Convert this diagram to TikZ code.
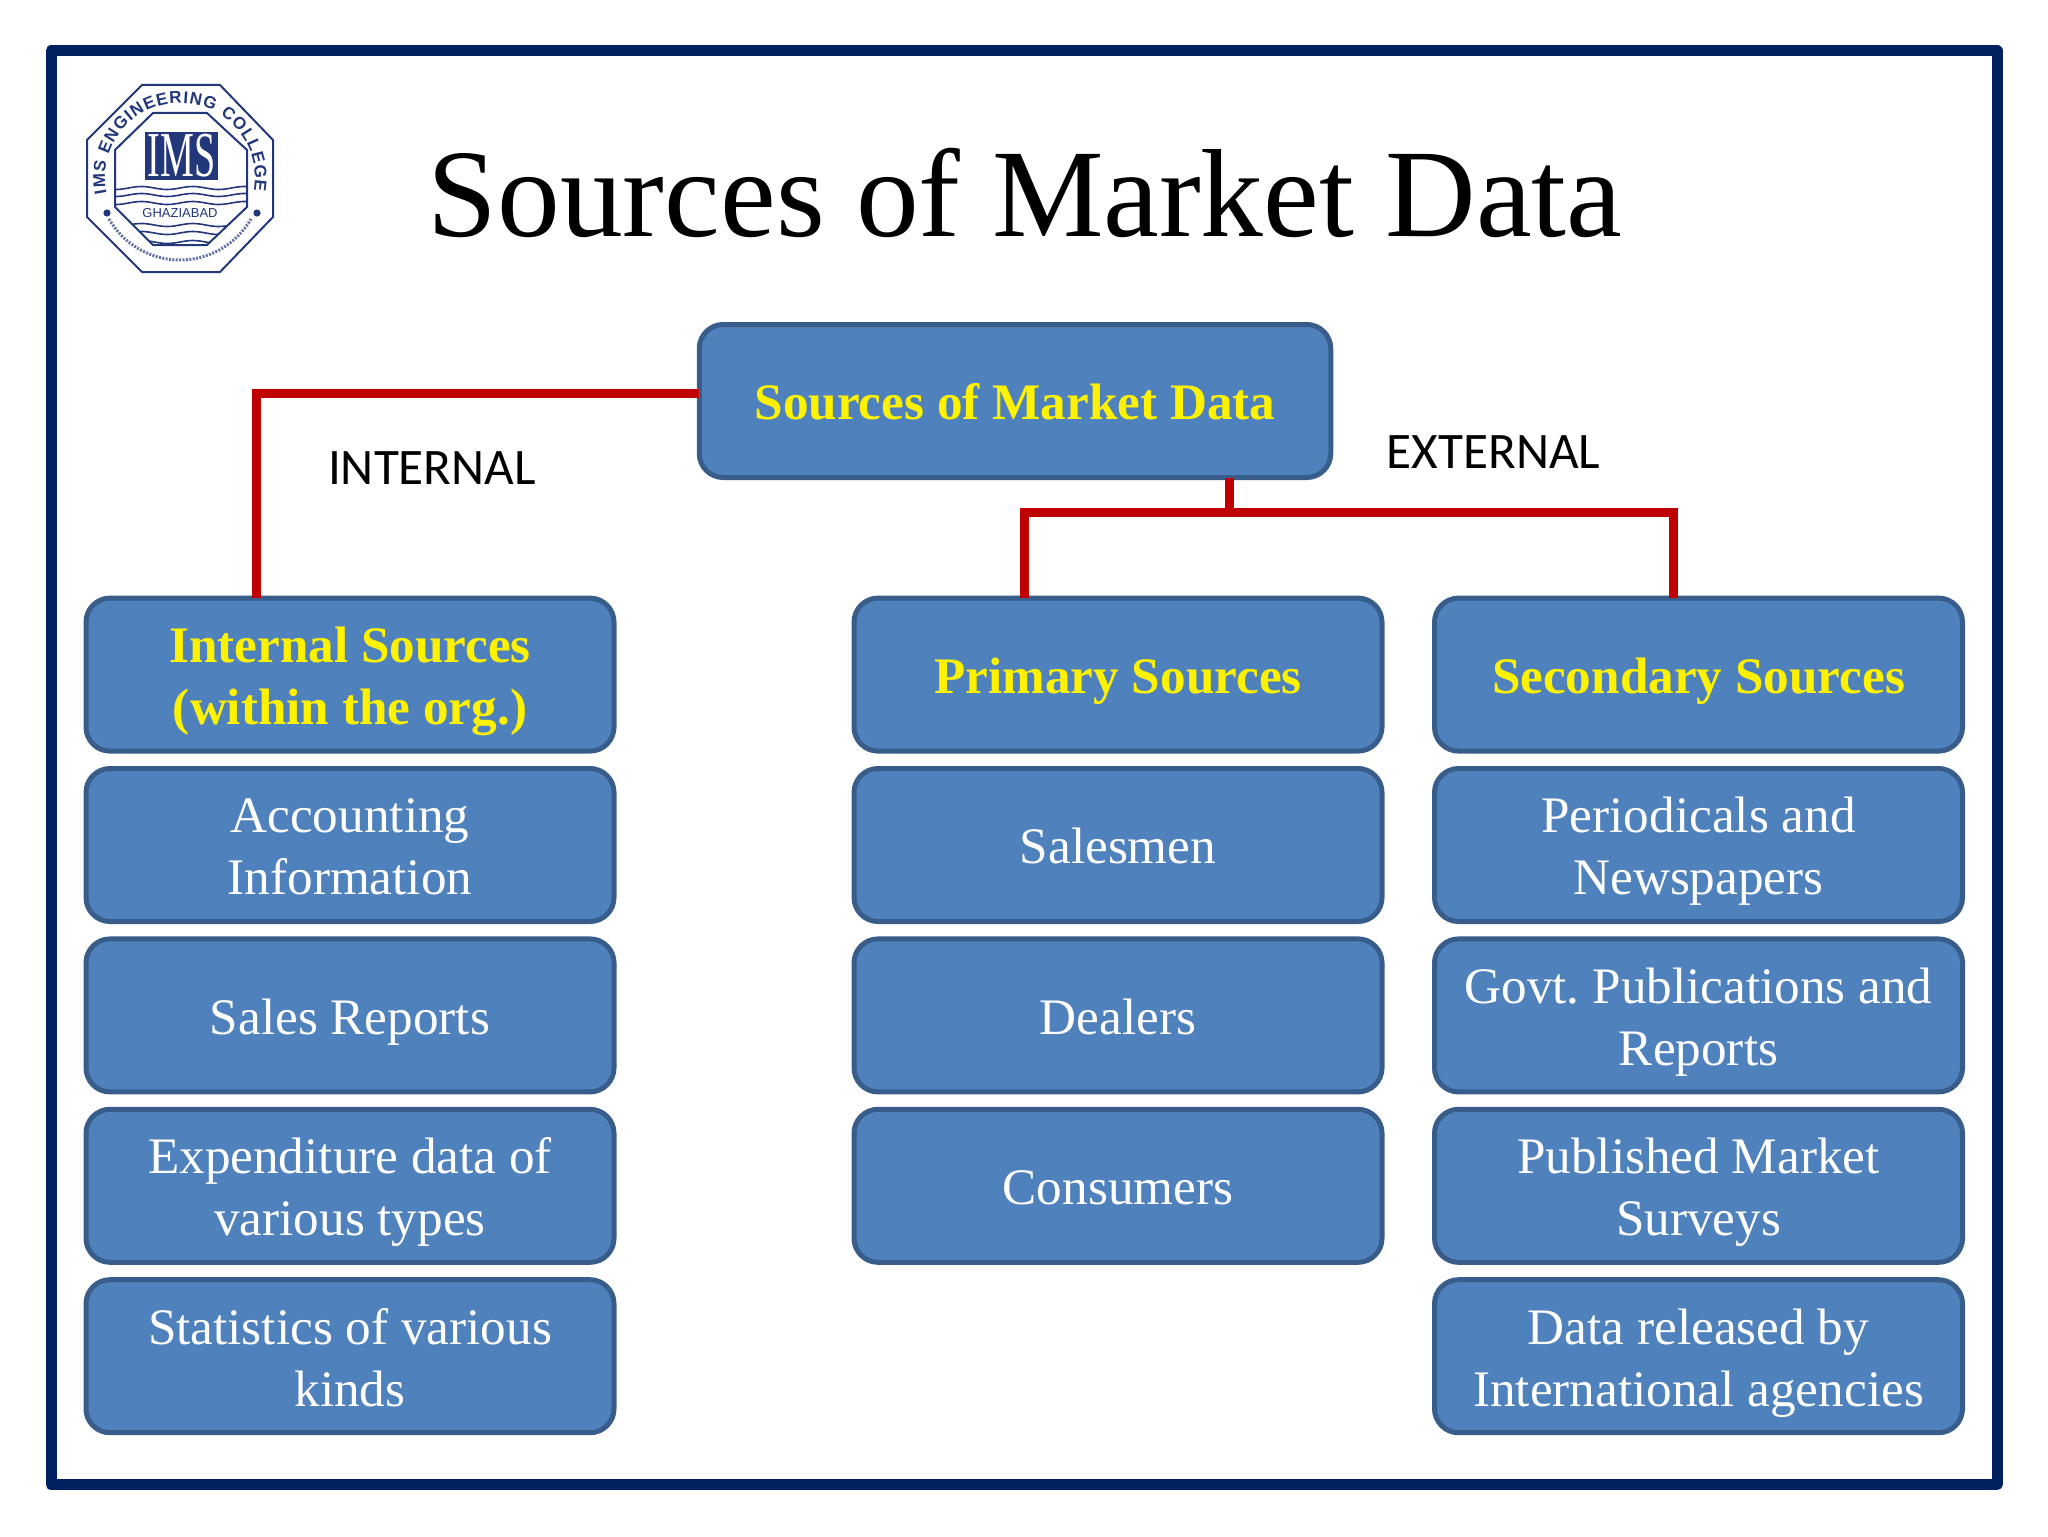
\documentclass[tikz,border=0pt]{standalone}
\usepackage{fontspec}
\setmainfont{Liberation Serif}
\newfontfamily\labelfont{Carlito}
\newfontfamily\logofont{Liberation Sans}
\usetikzlibrary{positioning,decorations.text}
\definecolor{framenavy}{HTML}{002060}
\definecolor{boxblue}{HTML}{4F81BD}
\definecolor{boxedge}{HTML}{385D8A}
\definecolor{linkred}{HTML}{C00000}
\definecolor{logoblue}{HTML}{23387A}
\tikzset{
  srcbox/.style={draw=boxedge, fill=boxblue, line width=2.5pt, rounded corners=12pt, outer sep=0pt,
    minimum width=264pt, minimum height=76.5pt, inner sep=0pt, text width=256pt, align=flush center, text=white,
    font=\fontsize{25.6}{31}\selectfont, execute at begin node={\rule{0pt}{28.2pt}}, execute at end node=\strut},
  headbox/.style={srcbox, text=yellow, font=\fontsize{25.6}{31}\selectfont\bfseries},
  link/.style={draw=linkred, line width=4.5pt, line cap=butt, line join=miter},
  sidelabel/.style={font=\fontsize{25.6}{30}\labelfont, text=black}
}
\frenchspacing
\begin{document}
\begin{tikzpicture}[x=0.5pt, y=-0.5pt, node distance=8.7pt, line join=round]
	\useasboundingbox (0,0) rectangle (2048,1536);
	\fill[white] (0,0) rectangle (2048,1536);
	\draw[framenavy, line width=5.5pt] (51,51) rectangle (1997,1484.5);
	
	% logo
	\draw[logoblue, line width=1pt, fill=white] (142,85)--(220,85)--(273,140)--(273,217)--(220,272)--(142,272)--(87,217)--(87,140)--cycle;
	\draw[logoblue, line width=1pt] (153,113)--(207,113)--(247,150)--(247,207)--(207,245)--(153,245)--(115,207)--(115,150)--cycle;
	\begin{scope}
		\clip (153,113)--(207,113)--(247,150)--(247,207)--(207,245)--(153,245)--(115,207)--(115,150)--cycle;
		\foreach \wy in {188,195,203,225,233,242}
			\draw[logoblue, line width=0.8pt, smooth, samples=40, domain=110:250] plot (\x,{\wy+1.5*sin(7*\x)});
	\end{scope}
	\node[fill=logoblue, text=white, minimum width=36.5pt, minimum height=24pt, inner sep=0pt] (imsmark) at (181.5,156)
		{\scalebox{0.95}[1.6]{\fontsize{20}{20}\selectfont IMS}};
	\node[fill=white, inner sep=0.5pt, text=logoblue, font=\fontsize{6.5}{7}\logofont] (ghaziabad) at (180,213) {GHAZIABAD};
	\path[decorate, decoration={text along path, text align={fit to path},
		text={|\fontsize{8.5}{9}\logofont\bfseries\color{logoblue}|IMS ENGINEERING COLLEGE}}]
		([shift={(192:37.5pt)}]180,178) arc[start angle=192, end angle=-10, radius=37.5pt];
	\fill[logoblue] (107,213) circle (1.8pt) (257,213) circle (1.8pt);
	\draw[logoblue!70, line width=1.5pt, dash pattern=on 1pt off 0.7pt] ([shift={(210:41pt)}]180,178) arc[start angle=210, end angle=330, radius=41pt];
	
	\node[font=\fontsize{62.7}{70}\selectfont, text=black, inner sep=0pt] (pagetitle) at (1025,193) {Sources of Market Data};
	
	\node[headbox, minimum width=315.75pt, text width=300pt] (rootbox) at (1015,401) {Sources of Market Data};
	
	% left column
	\node[headbox] (internal) at (350,674.6) {Internal Sources\\(within the org.)};
	\node[srcbox, below=of internal] (accounting) {Accounting\\Information};
	\node[srcbox, below=of accounting] (salesrep) {Sales Reports};
	\node[srcbox, below=of salesrep] (expenditure) {Expenditure data of\\various types};
	\node[srcbox, below=of expenditure] (statistics) {Statistics of various\\kinds};
	
	% middle column
	\node[headbox] (primary) at (1118,674.6) {Primary Sources};
	\node[srcbox, below=of primary] (salesmen) {Salesmen};
	\node[srcbox, below=of salesmen] (dealers) {Dealers};
	\node[srcbox, below=of dealers] (consumers) {Consumers};
	
	% right column
	\node[headbox] (secondary) at (1698.5,674.6) {Secondary Sources};
	\node[srcbox, below=of secondary] (periodicals) {Periodicals and\\Newspapers};
	\node[srcbox, below=of periodicals] (govt) {Govt. Publications and\\Reports};
	\node[srcbox, below=of govt] (published) {Published Market\\Surveys};
	\node[srcbox, below=of published] (released) {Data released by\\International agencies};
	
	\coordinate (split) at (1229,512);
	\draw[link] ([yshift=3.75pt]rootbox.west) -| ([xshift=-47pt]internal.north);
	\draw[link] (rootbox.south -| split) -- (split);
	\draw[link] ([xshift=-47pt]primary.north) |- (split) -| ([xshift=-12.75pt]secondary.north);
	
	\node[sidelabel] (internallabel) at (432,468) {INTERNAL};
	\node[sidelabel] (externallabel) at (1493.5,452) {EXTERNAL};
\end{tikzpicture}
\end{document}
